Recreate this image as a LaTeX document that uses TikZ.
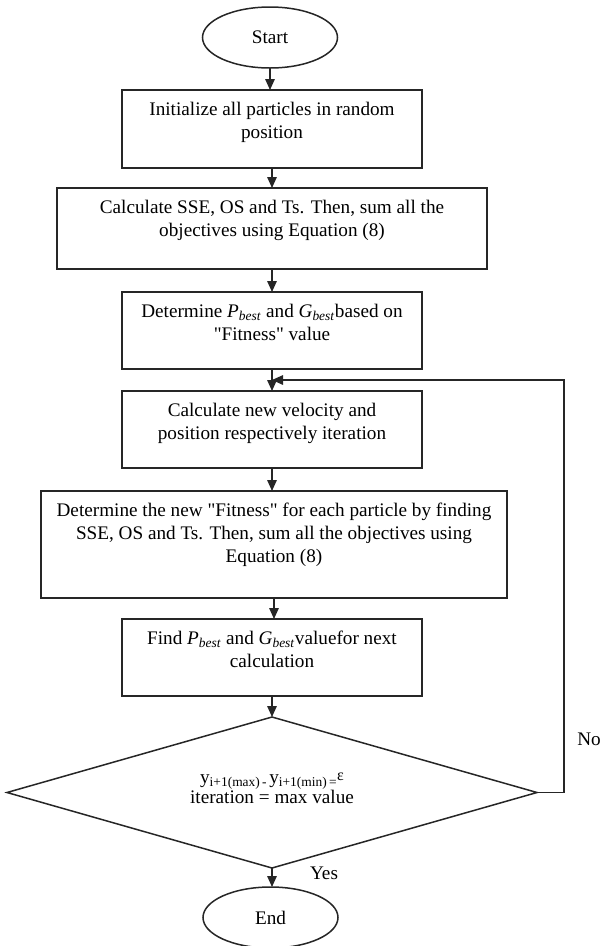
\documentclass[tikz,border=0pt]{standalone}
\usepackage{fontspec}
\setmainfont{Liberation Serif}
\usetikzlibrary{shapes.geometric,arrows.meta}
\begin{document}
\begin{tikzpicture}[x=1pt,y=-1pt,
  every node/.style={inner sep=0pt, outer sep=0pt},
  bx/.style={draw=black!85, line width=1.5pt, rectangle},
  lbl/.style={align=center, font=\fontsize{19.2}{23}\selectfont, anchor=north},
  term/.style={draw=black!85, line width=1.5pt, ellipse, minimum width=135pt, minimum height=61pt, font=\fontsize{19.2}{23}\selectfont},
  arr/.style={draw=black!85, line width=1.5pt, -{Triangle[length=11pt,width=9.5pt]}},
  plain/.style={font=\fontsize{19.2}{23}\selectfont}
  ]
\useasboundingbox (0,0) rectangle (601,946);

\node[term] (start) at (270,37.5) {Start};

\node[bx, minimum width=300pt, minimum height=78pt] (b1) at (272,129) {};
\node[lbl] (t1) at (272,102) {Initialize all particles in random\\position};

\node[bx, minimum width=430pt, minimum height=81pt] (b2) at (272,228.5) {};
\node[lbl] (t2) at (272,200) {Calculate SSE, OS and Ts. Then, sum all the\\objectives using Equation (8)};

\node[bx, minimum width=300pt, minimum height=77pt] (b3) at (272,330.5) {};
\node[lbl] (t3) at (272,304) {Determine \textit{P}\textsubscript{\textit{best}} and \textit{G}\textsubscript{\textit{best}}based on\\\textquotedbl Fitness\textquotedbl{} value};

\node[bx, minimum width=300pt, minimum height=77pt] (b4) at (272,429.5) {};
\node[lbl] (t4) at (272,403) {Calculate new velocity and\\position respectively iteration};

\node[bx, minimum width=466pt, minimum height=107pt] (b5) at (274,544.5) {};
\node[lbl] (t5) at (274,503) {Determine the new \textquotedbl Fitness\textquotedbl{} for each particle by finding\\SSE, OS and Ts. Then, sum all the objectives using\\Equation (8)};

\node[bx, minimum width=300pt, minimum height=77pt] (b6) at (272,657.5) {};
\node[lbl] (t6) at (272,631) {Find \textit{P}\textsubscript{\textit{best}} and \textit{G}\textsubscript{\textit{best}}valuefor next\\calculation};

\node[draw=black!85, line width=1.5pt, diamond, minimum width=530pt, minimum height=151pt] (dec) at (272,792.5) {};
\node[align=center, font=\fontsize{19.2}{20}\selectfont] (td) at (272,788) {y\textsubscript{i+1(max)\,-\,}y\textsubscript{i+1(min)\,=}\raisebox{3pt}{\fontsize{16}{16}\selectfont ε}\\iteration = max value};

\node[term] (end) at (270.5,917.5) {End};

\node[plain] (no) at (589,739) {No};
\node[plain] (yes) at (324,873) {Yes};

\coordinate (lp) at (564,380);

\draw[arr] (start.south) -- (start.south |- b1.north);
\draw[arr] (b1.south) -- (b1.south |- b2.north);
\draw[arr] (b2.south) -- (b2.south |- b3.north);
\draw[arr] (b3.south) -- (b3.south |- b4.north);
\draw[arr] (b4.south) -- (b4.south |- b5.north);
\draw[arr] (b5.south) -- (b5.south |- b6.north);
\draw[arr] (b6.south) -- (b6.south |- dec.north);
\draw[arr] (dec.south) -- (dec.south |- end.north);
\draw[arr] (dec.east) -| (lp) -- (b3.south |- lp);
\end{tikzpicture}
\end{document}
